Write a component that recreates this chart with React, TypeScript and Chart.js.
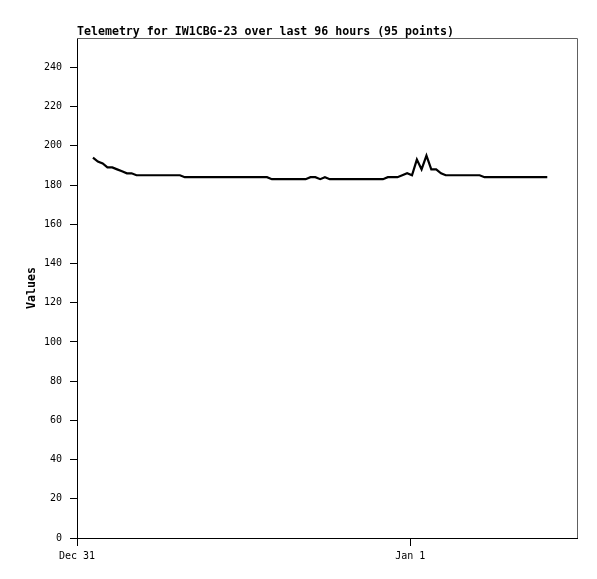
import React, { useEffect, useRef } from "react";
import { Chart, registerables } from "chart.js";

Chart.register(...registerables);

const TITLE = "Telemetry for IW1CBG-23 over last 96 hours (95 points)";
const Y_LABEL = "Values";

// hours since Dec 31 00:00
const HOURS = [
  1.15, 1.5, 1.85, 2.19, 2.54, 2.89, 3.24, 3.59, 3.93, 4.28,
  4.63, 4.98, 5.33, 5.67, 6.02, 6.37, 6.72, 7.07, 7.41, 7.76,
  8.11, 8.46, 8.81, 9.15, 9.5, 9.85, 10.2, 10.55, 10.89, 11.24,
  11.59, 11.94, 12.29, 12.63, 12.98, 13.33, 13.68, 14.03, 14.37, 14.72,
  15.07, 15.42, 15.77, 16.11, 16.46, 16.81, 17.16, 17.51, 17.85, 18.2,
  18.55, 18.9, 19.25, 19.59, 19.94, 20.29, 20.64, 20.99, 21.33, 21.68,
  22.03, 22.38, 22.73, 23.07, 23.42, 23.77, 24.12, 24.47, 24.81, 25.16,
  25.51, 25.86, 26.21, 26.55, 26.9, 27.25, 27.6, 27.95, 28.29, 28.64,
  28.99, 29.34, 29.69, 30.03, 30.38, 30.73, 31.08, 31.43, 31.77, 32.12,
  32.47, 32.82, 33.17, 33.51, 33.86,
];

const VALUES = [
  194, 192, 191, 189, 189, 188, 187, 186, 186,
  185, 185, 185, 185, 185, 185, 185, 185, 185, 185,
  184, 184, 184, 184, 184, 184, 184, 184, 184, 184, 184, 184, 184, 184, 184, 184, 184, 184,
  183, 183, 183, 183, 183, 183, 183, 183,
  184, 184, 183, 184,
  183, 183, 183, 183, 183, 183, 183, 183, 183, 183, 183, 183,
  184, 184, 184,
  185, 186, 185, 193, 188, 195, 188, 188, 186,
  185, 185, 185, 185, 185, 185, 185, 185,
  184, 184, 184, 184, 184, 184, 184, 184, 184, 184, 184, 184, 184, 184,
];

const X_TICK_VALUES = [0, 24];
const X_TICK_LABELS = ["Dec 31", "Jan 1"];
const Y_TICK_VALUES = [0, 20, 40, 60, 80, 100, 120, 140, 160, 180, 200, 220, 240];

const MONO = "'DejaVu Sans Mono', monospace";

export default function App() {
  const ref = useRef<HTMLCanvasElement | null>(null);

  useEffect(() => {
    if (!ref.current) return;
    const decor = {
      id: "decor",
      afterDraw(chart: any) {
        const { ctx, chartArea } = chart;
        const { left, right, top, bottom } = chartArea;
        ctx.save();
        ctx.strokeStyle = "#606060";
        ctx.lineWidth = 1;
        ctx.beginPath();
        ctx.moveTo(left, top + 0.5);
        ctx.lineTo(right + 0.5, top + 0.5);
        ctx.lineTo(right + 0.5, bottom);
        ctx.stroke();
        ctx.fillStyle = "#000";
        ctx.font = `bold 11.6px ${MONO}`;
        ctx.textAlign = "left";
        ctx.textBaseline = "middle";
        ctx.fillText(TITLE, left, top - 6.5);
        ctx.translate(32, (top + bottom) / 2);
        ctx.rotate(-Math.PI / 2);
        ctx.textAlign = "center";
        ctx.fillText(Y_LABEL, 0, 0);
        ctx.restore();
      },
    };
    const chart = new Chart(ref.current, {
      type: "line",
      data: {
        datasets: [
          {
            data: HOURS.map((h, i) => ({ x: h, y: VALUES[i] })),
            borderColor: "#000",
            borderWidth: 2.2,
            pointRadius: 0,
            tension: 0,
            fill: false,
          },
        ],
      },
      options: {
        animation: false,
        responsive: false,
        maintainAspectRatio: false,
        events: [],
        layout: { padding: { top: 38, right: 20, left: 0, bottom: 0 } },
        plugins: {
          legend: { display: false },
          tooltip: { enabled: false },
          title: { display: false },
        },
        scales: {
          x: {
            type: "linear",
            min: 0,
            max: 36,
            afterBuildTicks: (scale: any) => {
              scale.ticks = X_TICK_VALUES.map((v) => ({ value: v }));
            },
            afterFit: (scale: any) => {
              scale.height = 41;
            },
            ticks: {
              autoSkip: false,
              maxRotation: 0,
              padding: 4,
              color: "#000",
              font: { family: MONO, size: 10 },
              callback: (v: any) => {
                const i = X_TICK_VALUES.indexOf(Number(v));
                return i >= 0 ? X_TICK_LABELS[i] : "";
              },
            },
            grid: {
              drawOnChartArea: false,
              drawTicks: true,
              tickLength: 8,
              color: "#000",
            },
            border: { display: true, color: "#000", width: 1 },
          },
          y: {
            type: "linear",
            min: 0,
            max: 255,
            afterBuildTicks: (scale: any) => {
              scale.ticks = Y_TICK_VALUES.map((v) => ({ value: v }));
            },
            afterFit: (scale: any) => {
              scale.width = 77;
            },
            ticks: {
              autoSkip: false,
              padding: 8,
              color: "#000",
              font: { family: MONO, size: 10 },
            },
            grid: {
              drawOnChartArea: false,
              drawTicks: true,
              tickLength: 7,
              color: "#000",
            },
            border: { display: true, color: "#000", width: 1 },
          },
        },
      },
      plugins: [decor],
    });
    return () => chart.destroy();
  }, []);

  return (
    <div style={{ position: "fixed", left: 0, top: 0, width: 597, height: 579, background: "#fff" }}>
      <canvas ref={ref} width={597} height={579} style={{ width: 597, height: 579, display: "block" }} />
    </div>
  );
}
